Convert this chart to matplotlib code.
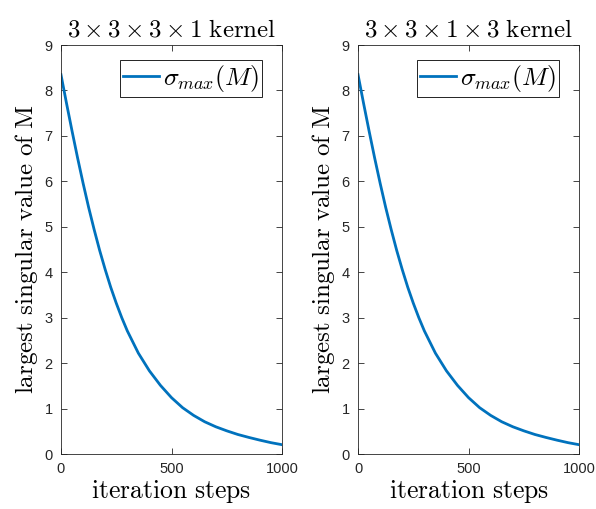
import numpy as np
import matplotlib.pyplot as plt

# ---------------------------------------------
# Data
# ---------------------------------------------
steps_left = [0, 25, 50, 75, 100, 125, 150, 175, 200, 225, 250, 275, 300,
              350, 400, 450, 500, 550, 600, 650, 700, 750, 800, 850, 900,
              950, 1000]
sigma_left = [8.35, 7.72, 7.11, 6.52, 5.96, 5.43, 4.94, 4.48, 4.06, 3.67,
              3.32, 3.00, 2.71, 2.22, 1.83, 1.51, 1.24, 1.02, 0.85, 0.71,
              0.60, 0.51, 0.43, 0.365, 0.305, 0.25, 0.205]

steps_right = [0, 25, 50, 75, 100, 125, 150, 175, 200, 225, 250, 275, 300,
               350, 400, 450, 500, 550, 600, 650, 700, 750, 800, 850, 900,
               950, 1000]
sigma_right = [8.35, 7.72, 7.11, 6.52, 5.96, 5.43, 4.94, 4.48, 4.06, 3.67,
               3.32, 3.00, 2.71, 2.22, 1.83, 1.51, 1.24, 1.02, 0.85, 0.71,
               0.60, 0.51, 0.43, 0.365, 0.305, 0.25, 0.205]

titles = [r"$3\times3\times3\times1\ \mathrm{kernel}$",
          r"$3\times3\times1\times3\ \mathrm{kernel}$"]

# ---------------------------------------------
# Plot
# ---------------------------------------------
plt.rcParams["mathtext.fontset"] = "cm"
plt.rcParams["font.family"] = ["Liberation Sans", "DejaVu Sans"]

fig = plt.figure(figsize=(5.96, 5.09), dpi=100)
axes = [fig.add_axes([0.1023, 0.108, 0.371, 0.8035]),
        fig.add_axes([0.6007, 0.108, 0.371, 0.8035])]

data = [(steps_left, sigma_left), (steps_right, sigma_right)]
axcol = "#262626"

for ax, (x, y), title in zip(axes, data, titles):
    ax.plot(x, y, color="#0072BD", linewidth=2.0, label=r"$\sigma_{max}(M)$")
    ax.set_xlim(0, 1000)
    ax.set_ylim(0, 9)
    ax.set_xticks([0, 500, 1000])
    ax.set_yticks(range(10))
    ax.tick_params(direction="in", top=True, right=True, length=4,
                   width=0.6, colors=axcol, labelsize=10.5, pad=6)
    for s in ax.spines.values():
        s.set_color(axcol)
        s.set_linewidth(0.6)
    ax.set_title(title, fontsize=18, pad=6)
    ax.set_xlabel(r"$\mathrm{iteration\ steps}$", fontsize=18.5, labelpad=1)
    ax.set_ylabel(r"$\mathrm{largest\ singular\ value\ of\ M}$", fontsize=18,
                  labelpad=3)
    leg = ax.legend(loc="upper right", fontsize=18.5, fancybox=False,
                    framealpha=1, edgecolor="black", handlelength=1.4,
                    handletextpad=0.15, borderpad=0.12, borderaxespad=0,
                    bbox_to_anchor=(0.91, 0.963))
    leg.get_frame().set_linewidth(0.6)

plt.savefig("out.png", dpi=100)
